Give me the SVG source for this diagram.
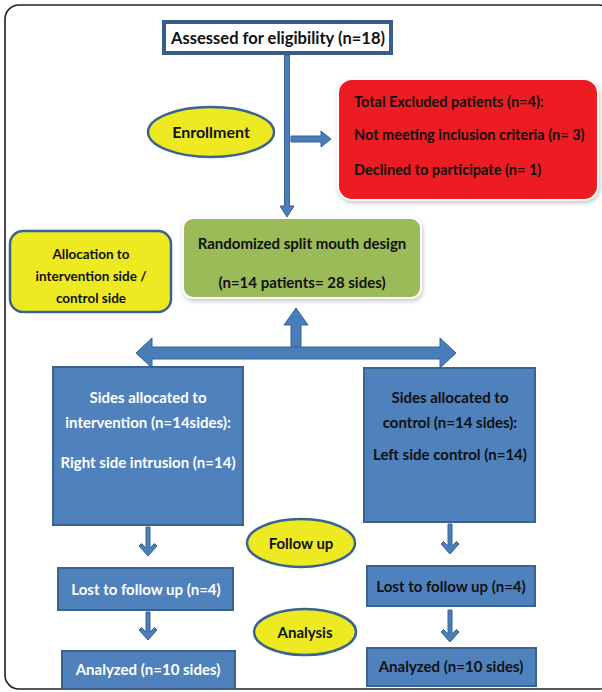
<svg xmlns="http://www.w3.org/2000/svg" width="602" height="692" viewBox="0 0 602 692">
<defs>
<style>
text{font-family:Lato,"Liberation Sans",sans-serif;font-weight:bold;}
.w{fill:#ffffff;}
.k{fill:#111111;}
.blue{fill:#4f81bd;stroke:#3a6391;stroke-width:2;}
.ell{fill:#eeea22;stroke:#3a6391;stroke-width:2.5;}
.arr{fill:#4a7ebb;stroke:#3a6391;stroke-width:1;}
</style>
<filter id="sh" x="-10%" y="-10%" width="120%" height="130%">
<feDropShadow dx="1" dy="2" stdDeviation="2" flood-color="#888" flood-opacity="0.5"/>
</filter>
</defs>
<rect x="5" y="5" width="608" height="684" rx="14" fill="#ffffff" stroke="#231f20" stroke-width="1.6"/>

<g id="connectors">
<path class="arr" d="M284.5,55 H289.5 V206 H294 L287,217 L280,206 H284.5 Z"/>
<path class="arr" d="M291,136 H321 V131 L331,139 L321,147 V142 H291 Z"/>
<path class="arr" d="M291,348 V325 H284 L296,308 L308,325 H301 V348 Z"/>
<path class="arr" d="M136,353 L152,338 V347 H440 V338 L456,353 L440,368 V359 H152 V368 Z"/>
<path class="arr" d="M146,527 H150 V548 L154.5,543.5 L157,546 L148,556 L139,546 L141.5,543.5 L146,548 Z"/>
<path class="arr" d="M448,524 H452 V546 L456.5,541.5 L459,544 L450,554 L441,544 L443.5,541.5 L448,546 Z"/>
<path class="arr" d="M146,612 H150 V632 L154.5,627.5 L157,630 L148,640 L139,630 L141.5,627.5 L146,632 Z"/>
<path class="arr" d="M448,610 H452 V634 L456.5,629.5 L459,632 L450,642 L441,632 L443.5,629.5 L448,634 Z"/>
</g>

<g id="assessed">
<rect x="164" y="22" width="227" height="31" fill="#ffffff" stroke="#385d8a" stroke-width="4"/>
<text x="278" y="44" font-size="17" text-anchor="middle" class="k" textLength="214" lengthAdjust="spacingAndGlyphs">Assessed for eligibility (n=18)</text>
</g>

<g id="enrollment">
<ellipse cx="211" cy="132" rx="63" ry="25" class="ell"/>
<text x="211" y="138" font-size="16" text-anchor="middle" class="k">Enrollment</text>
</g>

<g id="excluded">
<rect x="338" y="79" width="260" height="121" rx="14" fill="#ec1c24" stroke="#ffffff" stroke-width="2" filter="url(#sh)"/>
<text x="354" y="107" font-size="14.5" class="k">Total Excluded patients (n=4):</text>
<text x="354" y="140" font-size="14.5" class="k">Not meeting inclusion criteria (n= 3)</text>
<text x="354" y="175" font-size="14.5" class="k">Declined to participate (n= 1)</text>
</g>

<g id="allocation">
<rect x="10" y="231" width="161" height="81" rx="13" fill="#eeea22" stroke="#3a6391" stroke-width="2.5"/>
<text x="91" y="259" font-size="13.5" text-anchor="middle" class="k">Allocation to</text>
<text x="91" y="281" font-size="13.5" text-anchor="middle" class="k">intervention side /</text>
<text x="91" y="303" font-size="13.5" text-anchor="middle" class="k">control side</text>
</g>

<g id="randomized">
<rect x="183" y="218" width="238" height="80" rx="10" fill="#9bbb59" stroke="#ffffff" stroke-width="2" filter="url(#sh)"/>
<text x="302" y="249" font-size="15" text-anchor="middle" class="k">Randomized split mouth design</text>
<text x="302" y="288" font-size="15" text-anchor="middle" class="k">(n=14 patients= 28 sides)</text>
</g>

<g id="intervention">
<rect x="53" y="367" width="190" height="158" class="blue"/>
<text x="148" y="403" font-size="15" text-anchor="middle" class="w">Sides allocated to</text>
<text x="148" y="428" font-size="15" text-anchor="middle" class="w">intervention (n=14sides):</text>
<text x="148" y="468" font-size="15" text-anchor="middle" class="w">Right side intrusion (n=14)</text>
</g>

<g id="control">
<rect x="364" y="368" width="171" height="154" class="blue"/>
<text x="450" y="403" font-size="15" text-anchor="middle" class="k">Sides allocated to</text>
<text x="450" y="428" font-size="15" text-anchor="middle" class="k">control (n=14 sides):</text>
<text x="450" y="460" font-size="15" text-anchor="middle" class="k">Left side control (n=14)</text>
</g>

<g id="followup">
<ellipse cx="301" cy="543" rx="54" ry="24" class="ell"/>
<text x="301" y="549" font-size="15" text-anchor="middle" class="k">Follow up</text>
</g>

<g id="lost-left">
<rect x="58" y="568" width="175" height="42" class="blue"/>
<text x="146" y="595" font-size="15" text-anchor="middle" class="w">Lost to follow up (n=4)</text>
</g>

<g id="lost-right">
<rect x="367" y="566" width="168" height="40" class="blue"/>
<text x="451" y="592" font-size="15" text-anchor="middle" class="k">Lost to follow up (n=4)</text>
</g>

<g id="analysis">
<ellipse cx="305" cy="632" rx="51" ry="23" class="ell"/>
<text x="305" y="638" font-size="15" text-anchor="middle" class="k">Analysis</text>
</g>

<g id="analyzed-left">
<rect x="62" y="651" width="173" height="38" class="blue"/>
<text x="148" y="675" font-size="15" text-anchor="middle" class="w">Analyzed (n=10 sides)</text>
</g>

<g id="analyzed-right">
<rect x="367" y="648" width="169" height="38" class="blue"/>
<text x="451" y="672" font-size="15" text-anchor="middle" class="k">Analyzed (n=10 sides)</text>
</g>
</svg>
